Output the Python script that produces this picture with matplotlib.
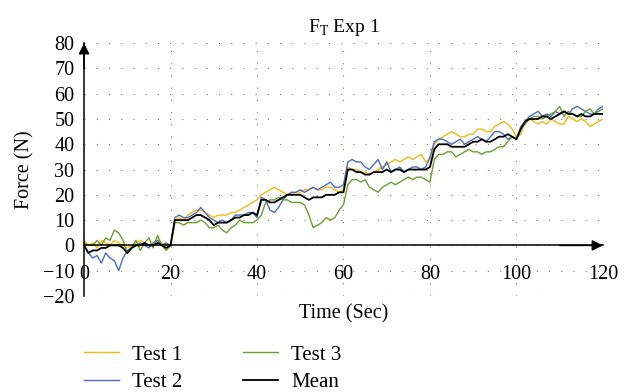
import numpy as np
import matplotlib
matplotlib.use('Agg')
from matplotlib import pyplot

pyplot.rcParams['font.family'] = ['Liberation Serif', 'DejaVu Serif']

# time axis (seconds) and force values, one per second
time_s = list(range(0, 121))

test1 = [2, 0, 1, -1, 2, 1, 0, 2, 1, 0, -1, 0, 1, 2, 1, 0, 1, 2, 1, 0, 0,
         10, 11, 10, 12, 13, 14, 14, 13, 12, 11, 12, 12, 12, 13, 13, 14, 15, 16, 17, 18,
         20, 21, 22, 23, 22, 21, 20, 21, 20, 21, 22, 22, 23, 22, 22, 23, 23, 22, 21, 22,
         31, 30, 30, 29, 29, 28, 29, 30, 31, 32, 33, 34, 33, 34, 35, 34, 35, 36, 33, 34,
         40, 42, 43, 44, 45, 44, 43, 43, 44, 44, 46, 46, 45, 45, 47, 48, 49, 48, 46, 43,
         44, 49, 50, 49, 48, 49, 48, 50, 49, 48, 48, 51, 50, 49, 50, 49, 47, 48, 49, 50]

test2 = [0, -3, -5, -4, -7, -3, -5, -6, -10, -5, -2, -1, 0, 1, 0, -1, 1, 2, 0, 1, 0,
         11, 12, 11, 11, 12, 13, 15, 13, 11, 10, 9, 10, 9, 10, 12, 12, 12, 13, 13, 11,
         19, 18, 14, 13, 15, 18, 20, 21, 21, 22, 21, 22, 23, 22, 23, 24, 25, 23, 23, 24,
         33, 34, 33, 33, 31, 30, 32, 34, 30, 33, 29, 30, 31, 29, 30, 31, 31, 30, 31, 35,
         41, 42, 42, 41, 40, 41, 42, 40, 41, 42, 43, 42, 41, 43, 45, 45, 44, 42, 43, 42,
         47, 49, 51, 52, 53, 51, 52, 51, 53, 52, 53, 52, 54, 55, 54, 53, 52, 52, 54, 55]

test3 = [1, 0, 0, 2, 0, 3, 2, 6, 5, 2, -3, -1, 2, -2, 1, 3, -1, 4, 0, -2, 0,
         9, 9, 8, 9, 9, 9, 10, 9, 7, 7, 8, 6, 5, 7, 8, 10, 9, 9, 9, 10,
         12, 17, 18, 18, 19, 18, 18, 17, 17, 17, 16, 12, 7, 8, 9, 11, 10, 11, 14, 16,
         24, 26, 26, 25, 26, 23, 22, 21, 23, 24, 25, 24, 25, 26, 27, 26, 27, 27, 26, 25,
         34, 36, 36, 37, 37, 35, 36, 37, 38, 37, 37, 36, 37, 37, 38, 39, 39, 41, 43, 42,
         46, 48, 50, 51, 51, 50, 51, 52, 53, 55, 51, 53, 52, 51, 51, 53, 54, 52, 53, 54]

mean = [0, -3, -2, -2, -1, -1, 0, 0, 0, -1, -3, -1, 0, 0, 1, 0, 0, 1, 0, -1, 0,
        10, 10, 10, 10, 11, 12, 12, 11, 10, 8, 9, 9, 9, 10, 11, 11, 12, 12, 13, 12,
        18, 18, 17, 17, 18, 19, 20, 20, 20, 20, 19, 18, 19, 19, 19, 20, 20, 20, 21, 21,
        30, 30, 29, 29, 28, 28, 29, 29, 29, 30, 29, 30, 30, 29, 30, 30, 30, 30, 30, 31,
        38, 40, 40, 40, 39, 39, 39, 39, 40, 41, 41, 42, 41, 41, 42, 43, 43, 44, 43, 42,
        46, 49, 50, 50, 50, 51, 51, 50, 51, 52, 53, 52, 52, 51, 52, 51, 51, 52, 52, 52]

x_ticks = [0, 20, 40, 60, 80, 100, 120]
y_ticks = [-20, -10, 0, 10, 20, 30, 40, 50, 60, 70, 80]
y_labels = ['\u221220', '\u221210', '0', '10', '20', '30', '40', '50', '60', '70', '80']

fig = pyplot.figure(figsize=(6.32, 3.92), dpi=100)
ax = fig.add_axes([0.133, 0.245, 0.821, 0.645])

ax.plot(time_s, test1, color='#f2b90f', lw=1.0, label='Test 1')
ax.plot(time_s, test2, color='#4a6cc4', lw=1.0, label='Test 2')
ax.plot(time_s, test3, color='#6e9e2e', lw=1.0, label='Test 3')
ax.plot(time_s, mean, color='black', lw=1.3, label='Mean')

ax.set_xlim(0, 120)
ax.set_ylim(-20, 80)
ax.set_xticks(x_ticks)
ax.set_yticks(y_ticks)
ax.set_yticklabels(y_labels)

# dotted grid
for y in y_ticks:
    ax.axhline(y, color='#777777', lw=0.8, ls=(0, (1, 10)), zorder=0)
for x in x_ticks[1:]:
    ax.axvline(x, color='#777777', lw=0.8, ls=(0, (1, 10)), zorder=0)

# axes through the origin with arrow heads
for s in ['top', 'right']:
    ax.spines[s].set_visible(False)
ax.spines['bottom'].set_position(('data', 0))
ax.spines['left'].set_position(('data', 0))
ax.spines['bottom'].set_linewidth(1.1)
ax.spines['left'].set_linewidth(1.1)
arrow = dict(arrowstyle='-|>', color='black', lw=1.1, mutation_scale=16, shrinkA=0, shrinkB=0)
ax.annotate('', xy=(120, 0), xytext=(110, 0), arrowprops=arrow, annotation_clip=False)
ax.annotate('', xy=(0, 80), xytext=(0, 70), arrowprops=arrow, annotation_clip=False)

ax.tick_params(axis='both', length=0, labelsize=14.5)
ax.tick_params(axis='x', pad=14)
ax.tick_params(axis='y', pad=7)

ax.set_xlabel('Time (Sec)', fontsize=14.5)
ax.xaxis.set_label_coords(0.5, -0.033)
ax.set_ylabel('Force (N)', fontsize=14.5, labelpad=6)
ax.set_title(r'F$_\mathregular{T}$ Exp 1', fontsize=14, pad=8)

fig.legend(loc='upper left', bbox_to_anchor=(0.133, 0.12), ncol=2, frameon=False,
           fontsize=15, handlelength=1.7, columnspacing=2.9, labelspacing=0.38,
           handletextpad=0.62, borderaxespad=0, borderpad=0)

pyplot.savefig('out.png', dpi=100)
